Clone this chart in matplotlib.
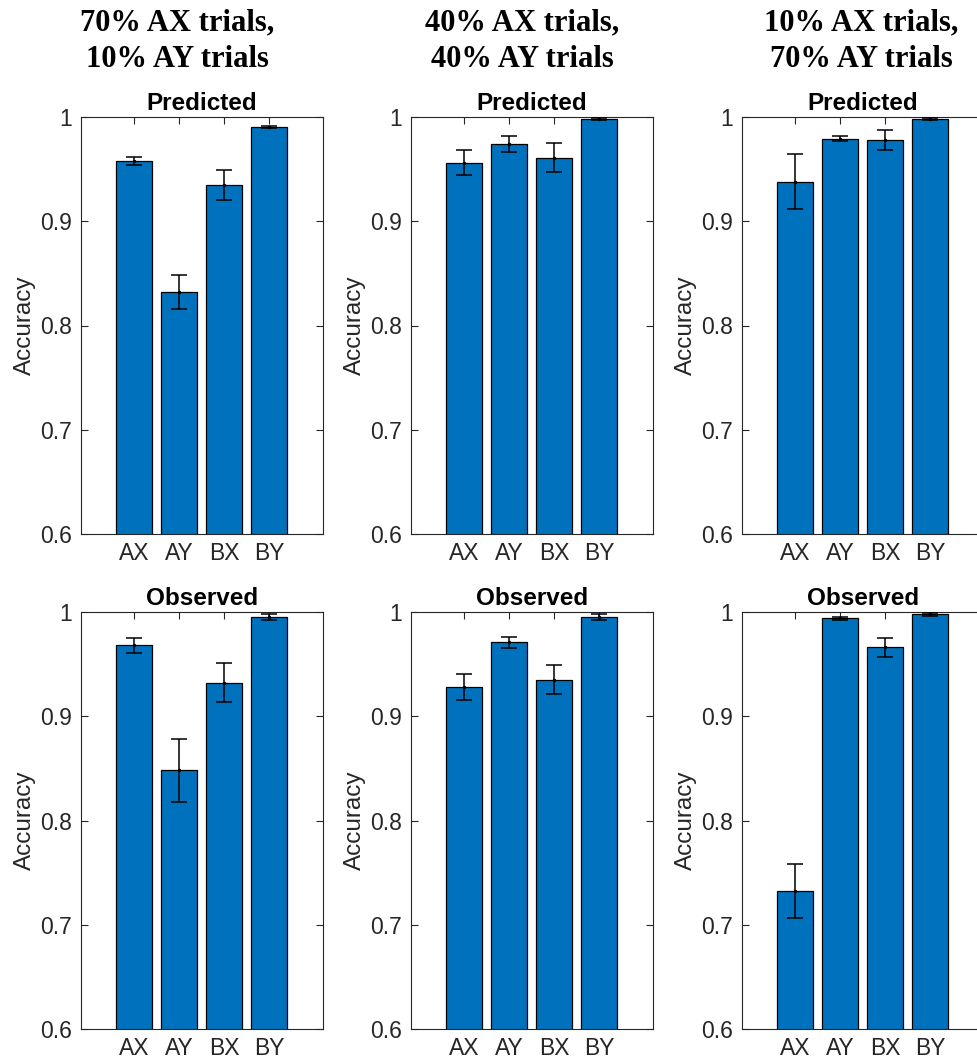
import numpy as np
import matplotlib
matplotlib.use('Agg')
from matplotlib import pyplot as plt

conditions = ['70% AX trials,\n10% AY trials',
              '40% AX trials,\n40% AY trials',
              '10% AX trials,\n70% AY trials']
trial_types = ['AX', 'AY', 'BX', 'BY']

# predicted accuracy and error (one row per condition)
pred_acc = [[0.958, 0.832, 0.935, 0.990],
            [0.956, 0.974, 0.961, 0.998],
            [0.938, 0.979, 0.978, 0.998]]
pred_err = [[0.004, 0.0165, 0.0145, 0.001],
            [0.012, 0.008, 0.0137, 0.001],
            [0.0265, 0.0025, 0.0094, 0.001]]

# observed accuracy and error
obs_acc = [[0.968, 0.848, 0.932, 0.995],
           [0.928, 0.971, 0.935, 0.995],
           [0.732, 0.994, 0.966, 0.998]]
obs_err = [[0.007, 0.030, 0.0187, 0.0027],
           [0.0122, 0.0053, 0.0137, 0.003],
           [0.026, 0.0015, 0.0093, 0.0015]]

yticks = [0.6, 0.7, 0.8, 0.9, 1.0]
ytick_labels = ['0.6', '0.7', '0.8', '0.9', '1']

BAR_COLOR = '#0072BD'
AX_COLOR = '#262626'

plt.rcParams['font.family'] = ['Liberation Sans', 'DejaVu Sans']

W, H = 977, 1062
fig = plt.figure(figsize=(W / 100, H / 100), dpi=100)

col_left = [80.7, 410.7, 741.7]
ax_w = 242
row_top = [117, 612]
ax_h = 417
header_x = [177, 522, 861]


def draw_panel(ax, acc, err, title):
    x = np.arange(1, len(trial_types) + 1)
    ax.bar(x, acc, width=0.8, color=BAR_COLOR, edgecolor='black',
           linewidth=0.9, zorder=2)
    ax.errorbar(x, acc, yerr=err, fmt='.', color='black', markersize=3,
                elinewidth=1.1, capsize=5.5, capthick=1.1, zorder=3)
    ax.set_xlim(-0.19, 5.19)
    ax.set_ylim(0.6, 1.0)
    ax.set_xticks(x)
    ax.set_xticklabels(trial_types)
    ax.set_yticks(yticks)
    ax.set_yticklabels(ytick_labels)
    ax.tick_params(direction='in', length=5, width=0.8, colors=AX_COLOR,
                   labelsize=16.5, top=True, right=True)
    ax.tick_params(axis='y', pad=6.5)
    ax.tick_params(axis='x', pad=5.5)
    for s in ax.spines.values():
        s.set_color(AX_COLOR)
        s.set_linewidth(0.8)
    ax.set_ylabel('Accuracy', fontsize=17.5, color=AX_COLOR, labelpad=3)
    ax.set_title(title, fontsize=17.5, fontweight='bold', pad=5)


for i in range(3):
    for r, (accs, errs, title) in enumerate([(pred_acc, pred_err, 'Predicted'),
                                            (obs_acc, obs_err, 'Observed')]):
        rect = [col_left[i] / W, 1 - (row_top[r] + ax_h) / H, ax_w / W, ax_h / H]
        ax = fig.add_axes(rect)
        draw_panel(ax, accs[i], errs[i], title)
    fig.text(header_x[i] / W, 1 - 41 / H, conditions[i], ha='center', va='center',
             fontsize=22, fontweight='bold', family='Liberation Serif',
             linespacing=1.32)

fig.savefig('out.png', dpi=100)
